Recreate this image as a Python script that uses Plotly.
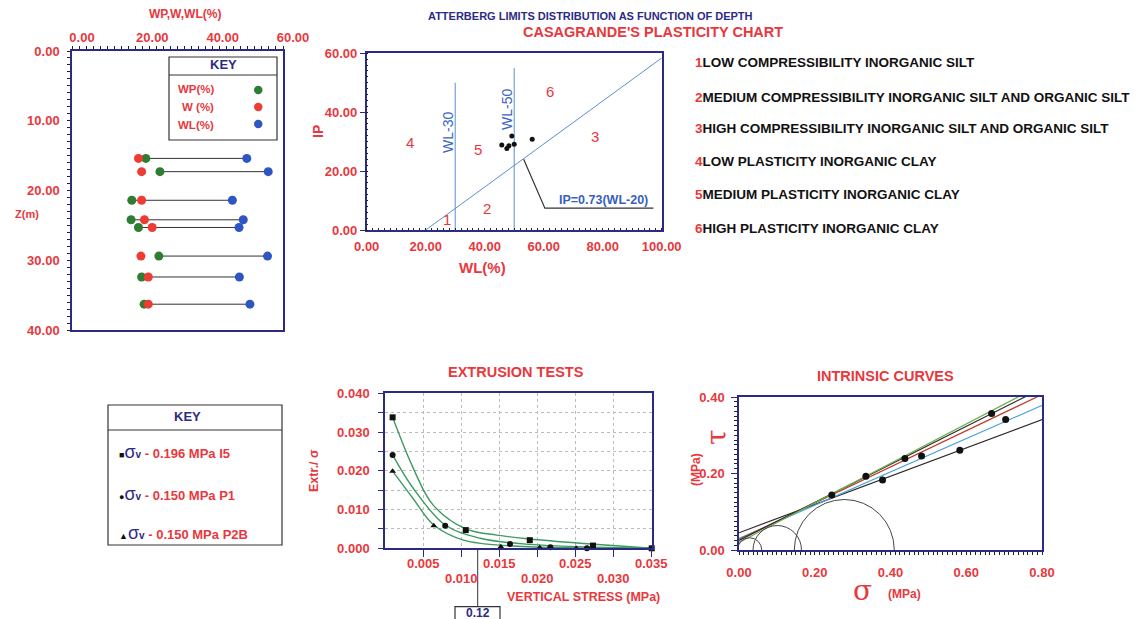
import plotly.graph_objects as go

W, H = 1141, 619
OFF = 8  # page body margin offset
def PX(x): return (x - OFF) / W
def PY(y): return 1 - (y - OFF) / H

RED = "#e8383d"
NAVY = "#2b2b85"
BLUE_LN = "#5b8fd0"
FONT = "Liberation Sans"

# ---------------- data ----------------
# Atterberg limits vs depth
depth = [15.4, 17.3, 21.4, 24.2, 25.3, 29.4, 32.4, 36.3]
wp = [21.0, 25.0, 17.0, 16.8, 18.9, 24.7, 19.8, 20.5]
w_nat = [18.9, 19.8, 19.8, 20.6, 22.8, 19.6, 21.7, 21.7]
wl = [49.7, 55.8, 45.6, 48.7, 47.5, 55.6, 47.6, 50.6]

# Casagrande chart
cas_wl = [45.8, 47.5, 48.2, 49.2, 50.0, 56.1]
cas_ip = [28.9, 27.7, 28.6, 31.9, 29.1, 30.8]
aline_slope, aline_wl0 = 0.73, 20
wl_limits = [30, 50]
wl_limit_tops = [50, 55]
zone_labels = ["1", "2", "3", "4", "5", "6"]
zone_wl = [27.1, 40.7, 77.4, 14.7, 37.8, 62.1]
zone_ip = [3.4, 7.4, 31.7, 29.6, 27.4, 47.0]
zone_desc = [
    "LOW COMPRESSIBILITY INORGANIC SILT",
    "MEDIUM COMPRESSIBILITY INORGANIC SILT AND ORGANIC SILT",
    "HIGH COMPRESSIBILITY INORGANIC SILT AND ORGANIC SILT",
    "LOW PLASTICITY INORGANIC CLAY",
    "MEDIUM PLASTICITY INORGANIC CLAY",
    "HIGH PLASTICITY INORGANIC CLAY",
]
callout_wl = [53.2, 60.4, 97.2]
callout_ip = [24.0, 7.4, 7.4]

# Extrusion tests
i5_x = [0.0010, 0.0106, 0.0190, 0.0273, 0.0350]
i5_y = [0.0338, 0.0047, 0.0021, 0.0007, 0.0000]
p1_x = [0.0010, 0.0079, 0.0164, 0.0217, 0.0265]
p1_y = [0.0241, 0.0058, 0.0011, 0.0003, 0.0000]
p2b_x = [0.0010, 0.0064, 0.0152, 0.0203, 0.0251]
p2b_y = [0.0199, 0.0058, 0.0004, 0.0002, 0.0000]
i5_fit_x = [0.0010, 0.0037, 0.0063, 0.0106, 0.0147, 0.0190, 0.0256, 0.0350]
i5_fit_y = [0.0338, 0.0207, 0.0112, 0.0050, 0.0034, 0.0024, 0.0013, 0.0000]
p1_fit_x = [0.0010, 0.0037, 0.0079, 0.0125, 0.0190, 0.0350]
p1_fit_y = [0.0241, 0.0155, 0.0060, 0.0026, 0.0010, 0.0000]
p2b_fit_x = [0.0010, 0.0037, 0.0064, 0.0103, 0.0168, 0.0350]
p2b_fit_y = [0.0199, 0.0128, 0.0060, 0.0021, 0.0006, 0.0000]
ext_xticks = [0.005, 0.010, 0.015, 0.020, 0.025, 0.030, 0.035]
key_labels = ["0.196 MPa I5", "0.150 MPa P1", "0.150 MPa P2B"]
key_symbols = ["■", "●", "▲"]

# Intrinsic curves
sig = [0.245, 0.335, 0.379, 0.438, 0.482, 0.583, 0.667, 0.704]
tau = [0.1435, 0.193, 0.183, 0.239, 0.246, 0.261, 0.357, 0.341]
env_c = [0.045, 0.030, 0.028, 0.025, 0.020]
env_tanphi = [0.370, 0.435, 0.473, 0.497, 0.516]
env_colors = ["#2a2a2a", "#4aa3d8", "#c0392b", "#2a2a2a", "#6ab04c"]
mohr_center = [0.028, 0.101, 0.278]
mohr_radius = [0.032, 0.064, 0.132]

fig = go.Figure()

# ---------- panel 1 ----------
lx, ly = [], []
for a, b, z in zip(wp, wl, depth):
    lx += [a, b, None]
    ly += [z, z, None]
fig.add_trace(go.Scatter(x=lx, y=ly, mode="lines", line=dict(color="#333", width=1),
                         xaxis="x", yaxis="y", hoverinfo="skip"))
for vals, col in [(wp, "#2e7d32"), (w_nat, "#ee3b33"), (wl, "#2f55c4")]:
    fig.add_trace(go.Scatter(x=vals, y=depth, mode="markers",
                             marker=dict(color=col, size=9), xaxis="x", yaxis="y"))

# ---------- panel 2 ----------
fig.add_trace(go.Scatter(x=[aline_wl0, 100], y=[0, aline_slope * (100 - aline_wl0)], mode="lines",
                         line=dict(color=BLUE_LN, width=1), xaxis="x2", yaxis="y2"))
for wlv, top in zip(wl_limits, wl_limit_tops):
    fig.add_trace(go.Scatter(x=[wlv, wlv], y=[0, top], mode="lines",
                             line=dict(color=BLUE_LN, width=1), xaxis="x2", yaxis="y2"))
fig.add_trace(go.Scatter(x=callout_wl, y=callout_ip, mode="lines",
                         line=dict(color="#333", width=1.2), xaxis="x2", yaxis="y2"))
fig.add_trace(go.Scatter(x=cas_wl, y=cas_ip, mode="markers",
                         marker=dict(color="#111", size=5), xaxis="x2", yaxis="y2"))

# ---------- panel 3 (extrusion) ----------
GREEN_C = "#3f9a62"
for fx, fy in [(i5_fit_x, i5_fit_y), (p1_fit_x, p1_fit_y), (p2b_fit_x, p2b_fit_y)]:
    fig.add_trace(go.Scatter(x=fx, y=fy, mode="lines", line=dict(color=GREEN_C, width=1.4, shape="spline"),
                             xaxis="x3", yaxis="y3"))
for sx, sy, sym in [(i5_x, i5_y, "square"), (p1_x, p1_y, "circle"), (p2b_x, p2b_y, "triangle-up")]:
    fig.add_trace(go.Scatter(x=sx, y=sy, mode="markers", marker=dict(color="#111", size=6, symbol=sym),
                             xaxis="x3", yaxis="y3", cliponaxis=False))

# ---------- panel 4 (intrinsic) ----------
for c, t, col in zip(env_c, env_tanphi, env_colors):
    fig.add_trace(go.Scatter(x=[0, 0.82], y=[c, c + t * 0.82], mode="lines",
                             line=dict(color=col, width=1.2), xaxis="x4", yaxis="y4"))
fig.add_trace(go.Scatter(x=sig, y=tau, mode="markers", marker=dict(color="#111", size=7),
                         xaxis="x4", yaxis="y4"))

shapes = []
for c, r in zip(mohr_center, mohr_radius):
    shapes.append(dict(type="circle", xref="x4", yref="y4", x0=c - r, x1=c + r, y0=-r, y1=r,
                       line=dict(color="#444", width=1)))

# key box panel 1
shapes.append(dict(type="rect", xref="paper", yref="paper", x0=PX(169), x1=PX(277), y0=PY(140), y1=PY(57),
                   line=dict(color="#333", width=1.2)))
shapes.append(dict(type="line", xref="paper", yref="paper", x0=PX(169), x1=PX(277), y0=PY(75), y1=PY(75),
                   line=dict(color="#333", width=1)))
key1_colors = ["#2e7d32", "#ee3b33", "#2f55c4"]
key1_y = [90, 107, 124]
for col, yy in zip(key1_colors, key1_y):
    shapes.append(dict(type="circle", xref="paper", yref="paper", x0=PX(254), x1=PX(262.5),
                       y0=PY(yy + 4.2), y1=PY(yy - 4.2), fillcolor=col, line=dict(color=col, width=0)))
# key box panel 3
shapes.append(dict(type="rect", xref="paper", yref="paper", x0=PX(108), x1=PX(282), y0=PY(545), y1=PY(405),
                   line=dict(color="#333", width=1.2)))
shapes.append(dict(type="line", xref="paper", yref="paper", x0=PX(108), x1=PX(282), y0=PY(430), y1=PY(430),
                   line=dict(color="#333", width=1)))
# 0.12 marker
shapes.append(dict(type="line", xref="paper", yref="paper", x0=PX(477.7), x1=PX(477.7), y0=PY(606.7), y1=PY(548),
                   line=dict(color="#333", width=1)))
shapes.append(dict(type="rect", xref="paper", yref="paper", x0=PX(455), x1=PX(500), y0=PY(630), y1=PY(606.7),
                   line=dict(color="#333", width=1.2)))

ann = []
def txt(x, y, s, size=12, color=RED, anchor="center", angle=0, weight="bold", family=FONT, yanchor="middle"):
    ann.append(dict(x=x, y=y, xref="paper", yref="paper", text=s, showarrow=False, xanchor=anchor,
                    yanchor=yanchor, textangle=angle,
                    font=dict(family=family, size=size, color=color, weight=weight)))

txt(PX(590), PY(8), "ATTERBERG LIMITS DISTRIBUTION AS FUNCTION OF DEPTH", size=11, color=NAVY, yanchor="top")
txt(PX(185), PY(14), "WP,W,WL(%)", size=12)
txt(PX(27), PY(214), "Z(m)", size=11)
txt(PX(223), PY(65), "KEY", size=13, color=NAVY)
txt(PX(175.5), PY(89), "WP(%)", size=11.5, anchor="left")
txt(PX(180), PY(107), "W (%)", size=11.5, anchor="left")
txt(PX(175.5), PY(125), "WL(%)", size=11.5, anchor="left")

txt(PX(653), PY(32), "CASAGRANDE'S PLASTICITY CHART", size=14.5)
txt(PX(318), PY(132), "IP", size=14, angle=-90)
txt(PX(482), PY(268), "WL(%)", size=15)
txt(PX(448), PY(133), "WL-30", size=14, color="#3a66c2", angle=-90, weight="normal")
txt(PX(507), PY(110), "WL-50", size=14, color="#3a66c2", angle=-90, weight="normal")
txt(PX(603), PY(200), "IP=0.73(WL-20)", size=12.5, color="#3a5fc0")
for lab, zx, zy in zip(zone_labels, zone_wl, zone_ip):
    ann.append(dict(x=zx, y=zy, xref="x2", yref="y2", text=lab, showarrow=False,
                    font=dict(family=FONT, size=15, color=RED)))

list_y = [62, 97, 129, 161, 195, 228]
for lab, d, yy in zip(zone_labels, zone_desc, list_y):
    txt(PX(693), PY(yy), f"<span style='color:{RED}'>{lab}</span>{d}", size=13.5, color="#111", anchor="left")

txt(PX(516), PY(372), "EXTRUSION TESTS", size=14.5)
txt(PX(583), PY(597), "VERTICAL STRESS (MPa)", size=12.5)
txt(PX(314), PY(471), "Extr./ σ", size=12.5, angle=-90)
for i, v in enumerate(ext_xticks):
    ann.append(dict(x=v, y=PY(563 if i % 2 == 0 else 578), xref="x3", yref="paper", text=f"{v:.3f}",
                    showarrow=False, xanchor="center", yanchor="middle",
                    font=dict(family=FONT, size=13, color=RED, weight="bold")))
txt(PX(478), PY(613), "0.12", size=12, color=NAVY)
txt(PX(187), PY(416), "KEY", size=13, color=NAVY)
key_y = [452, 494, 533]
for sym, lab, yy in zip(key_symbols, key_labels, key_y):
    s = (f"<span style='color:#111;font-size:9px'>{sym}</span>"
         f"<span style='color:{NAVY};font-size:18px;font-weight:normal'>σ</span>"
         f"<span style='color:{NAVY};font-size:10px'>v</span> - {lab}")
    txt(PX(117), PY(yy), s, size=13, anchor="left")

txt(PX(885), PY(376), "INTRINSIC CURVES", size=14.5)
txt(PX(862), PY(590), "σ", size=28, weight="normal", family="DejaVu Serif")
txt(PX(905), PY(594), "(MPa)", size=12)
txt(PX(716), PY(437), "τ", size=28, angle=-90, weight="normal", family="DejaVu Serif")
txt(PX(696), PY(469), "(MPa)", size=12, angle=-90)

tickfont = dict(family=FONT, size=13, color=RED, weight="bold")
base = dict(showline=True, linecolor=NAVY, linewidth=1.5, mirror=True, showgrid=False, zeroline=False,
            tickfont=tickfont, ticks="", automargin=False)

fig.update_layout(
    width=W, height=619, margin=dict(l=0, r=0, t=0, b=0, autoexpand=False),
    paper_bgcolor="white", plot_bgcolor="white", showlegend=False,
    shapes=shapes, annotations=ann,
    xaxis=dict(base, domain=[PX(72), PX(283)], range=[0, 60], side="top", anchor="y",
               tickvals=[0, 20, 40, 60], tickformat=".2f", ticklabelshift=10, ticklabelstandoff=2,
               minor=dict(ticks="outside", ticklen=3, dtick=2, tickcolor="#222")),
    yaxis=dict(base, domain=[PY(330), PY(51)], range=[40, 0], anchor="x",
               tickvals=[0, 10, 20, 30, 40], tickformat=".2f", ticklabelstandoff=8,
               minor=dict(ticks="outside", ticklen=3, dtick=1, tickcolor="#222")),
    xaxis2=dict(base, domain=[PX(366.7), PX(661.7)], range=[0, 100], anchor="y2",
                tickvals=[0, 20, 40, 60, 80, 100], tickformat=".2f", ticklabelstandoff=4,
                minor=dict(ticks="inside", ticklen=2, dtick=2, tickcolor="#222")),
    yaxis2=dict(base, domain=[PY(230), PY(53.3)], range=[0, 60], anchor="x2",
                tickvals=[0, 20, 40, 60], tickformat=".2f", ticks="outside", ticklen=5, tickcolor=NAVY,
                minor=dict(ticks="inside", ticklen=2, dtick=2, tickcolor="#222")),
    xaxis3=dict(base, domain=[PX(385), PX(651.7)], range=[0, 0.035], anchor="y3",
                tickvals=ext_xticks, showticklabels=False, ticks="outside", ticklen=7, tickcolor=NAVY,
                showgrid=True, gridcolor="#bbbbbb", griddash="dot", gridwidth=1),
    yaxis3=dict(base, domain=[PY(548.3), PY(393.3)], range=[0, 0.04], anchor="x3",
                tickvals=[0, 0.01, 0.02, 0.03, 0.04], tickformat=".3f", ticks="outside", ticklen=5,
                tickcolor=NAVY, ticklabelstandoff=6,
                showgrid=True, gridcolor="#bbbbbb", griddash="dot",
                minor=dict(ticks="outside", ticklen=5, dtick=0.005, tickcolor=NAVY,
                           showgrid=True, gridcolor="#bbbbbb", griddash="dot")),
    xaxis4=dict(base, domain=[PX(739), PX(1042)], range=[0, 0.8], anchor="y4",
                tickvals=[0, 0.2, 0.4, 0.6, 0.8], tickformat=".2f", ticklabelstandoff=10,
                minor=dict(ticks="outside", ticklen=3, dtick=0.0125, tickcolor="#222")),
    yaxis4=dict(base, domain=[PY(550), PY(397)], range=[0, 0.4], anchor="x4",
                tickvals=[0, 0.2, 0.4], tickformat=".2f", ticks="outside", ticklen=6, tickcolor=NAVY,
                ticklabelstandoff=4,
                minor=dict(ticks="outside", ticklen=3, dtick=0.0125, tickcolor="#222")),
)

fig.write_html("out.html")
